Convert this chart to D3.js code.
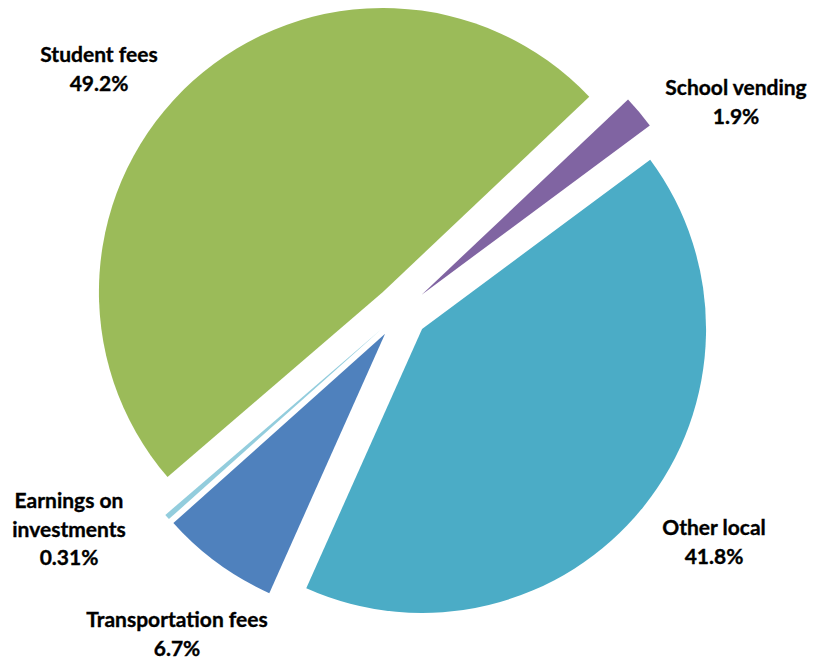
<!DOCTYPE html>
<html>
<head>
<meta charset="utf-8">
<script src="https://cdn.jsdelivr.net/npm/d3@7"></script>
<style>
  html, body { margin: 0; padding: 0; background: #ffffff; }
  svg text { font-family: Lato, "Open Sans", sans-serif; font-weight: 700; fill: #000; stroke: #000; stroke-width: 0.35px; }
</style>
</head>
<body>
<svg id="chart" width="813" height="661"></svg>
<script>
// Revenue sources, in the order they are laid out clockwise around the pie
const categories = ["School vending", "Other local", "Transportation fees", "Earnings on investments", "Student fees"];
const shares = [1.9, 41.8, 6.7, 0.31, 49.2];
const valueLabels = ["1.9%", "41.8%", "6.7%", "0.31%", "49.2%"];
const labelLines = [["School vending"], ["Other local"], ["Transportation fees"], ["Earnings on", "investments"], ["Student fees"]];
const colors = ["#8064A2", "#4BACC6", "#4F81BD", "#93CDDD", "#9BBB59"];

// Label anchor (center x, first baseline y) for each slice
const labelAnchor = [[736, 95], [714, 535], [177, 627], [69, 508], [99, 62]];

const width = 813, height = 661;
const cx = 401, cy = 312, radius = 284, explode = 27;
const lineHeight = 28.5;
const startAngle = 46.6 * Math.PI / 180;

const svg = d3.select("#chart");

const pie = d3.pie().sort(null).value(d => d.value)
  .startAngle(startAngle).endAngle(startAngle + 2 * Math.PI);
const arc = d3.arc().innerRadius(0).outerRadius(radius);

const data = categories.map((c, i) => ({
  name: c, value: shares[i], color: colors[i],
  lines: labelLines[i], pct: valueLabels[i], anchor: labelAnchor[i]
}));
const arcs = pie(data);

const g = svg.append("g").attr("transform", `translate(${cx},${cy})`);

// Each slice is pushed outward along its mid-angle
g.selectAll("path.slice")
  .data(arcs)
  .join("path")
  .attr("class", "slice")
  .attr("fill", d => d.data.color)
  .attr("transform", d => {
    const mid = (d.startAngle + d.endAngle) / 2;
    return `translate(${Math.sin(mid) * explode},${-Math.cos(mid) * explode})`;
  })
  .attr("d", arc);

// Data labels: category name(s) followed by the percentage
const labels = svg.selectAll("text.label")
  .data(arcs)
  .join("text")
  .attr("class", "label")
  .attr("text-anchor", "middle")
  .attr("font-size", 21)
  .attr("x", d => d.data.anchor[0])
  .attr("y", d => d.data.anchor[1]);

labels.each(function(d) {
  const t = d3.select(this);
  const all = d.data.lines.concat([d.data.pct]);
  all.forEach((line, k) => {
    t.append("tspan")
      .attr("x", d.data.anchor[0])
      .attr("y", d.data.anchor[1] + k * lineHeight)
      .text(line);
  });
});
</script>
</body>
</html>
